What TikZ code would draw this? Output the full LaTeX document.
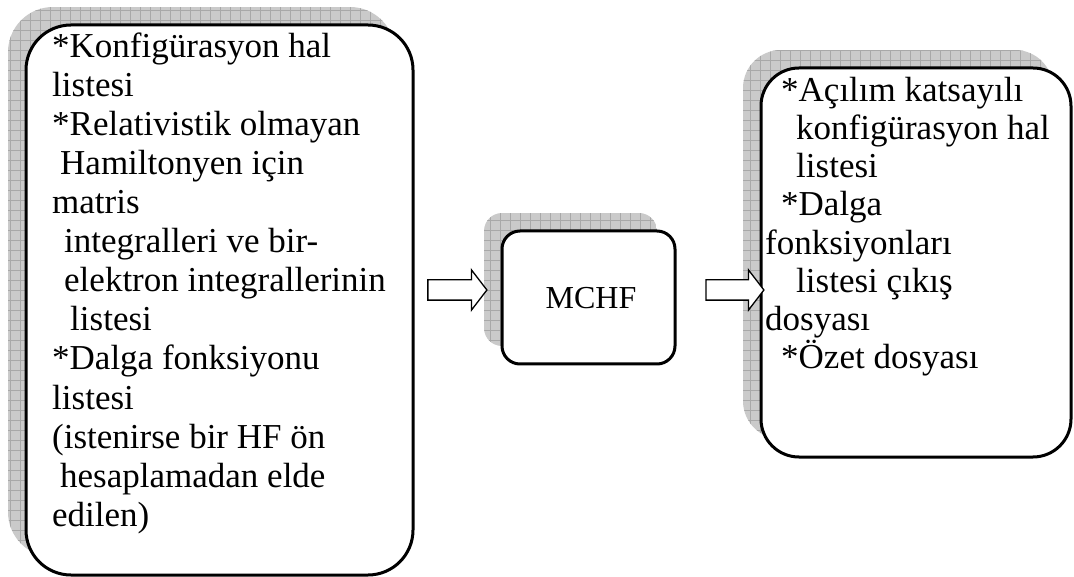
\documentclass[tikz,border=0pt]{standalone}
\usepackage{fontspec}
\setmainfont{Liberation Serif}
\usetikzlibrary{shapes.arrows}
\definecolor{shfill}{HTML}{CACACA}
\definecolor{shline}{HTML}{A8A8A8}
\newcommand\myshadow[3]{%
  \begin{scope}
    \clip[rounded corners=#3] #1 rectangle #2;
    \fill[shfill] #1 rectangle #2;
    \draw[shline, line width=0.7pt] #1 grid[step=10pt] #2;
  \end{scope}}
\begin{document}
\begin{tikzpicture}[x=1pt,y=-1pt,
  box/.style={draw, fill=white, line width=3pt, inner sep=0pt},
  blockarrow/.style={single arrow, draw, fill=white, line width=1.3pt,
    inner xsep=0pt, inner ysep=9.5pt, minimum width=0pt,
    single arrow head extend=10pt, single arrow tip angle=105},
  txt/.style={anchor=base west, inner sep=0pt, font=\fontsize{35}{40}\selectfont}]
\useasboundingbox (0,0) rectangle (1074,577);
% box 1
\myshadow{(8,7)}{(395,557)}{45pt}
\node[box, rounded corners=45pt, minimum width=387, minimum height=550] (b1) at (219.5,300) {};
% box 2
\myshadow{(484,213)}{(657,346)}{18pt}
\node[box, rounded corners=18pt, minimum width=173, minimum height=133] (b2) at (588.5,297.5) {};
% box 3
\myshadow{(743,50)}{(1053,439)}{38pt}
\node[box, rounded corners=38pt, minimum width=310, minimum height=389] (b3) at (916,262.5) {};
% arrows
\node[blockarrow, minimum height=59] (ar1) at (453.5,290) {};
\node[blockarrow, minimum height=58] (ar2) at (731,290) {};
% texts box 1
\node[txt] (t1) at (52,58) {*Konfigürasyon hal};
\node[txt] (t2) at (52,97) {listesi};
\node[txt] (t3) at (52,136) {*Relativistik olmayan};
\node[txt] (t4) at (60,175) {Hamiltonyen için};
\node[txt] (t5) at (52,214) {matris};
\node[txt] (t6) at (64,253) {integralleri ve bir-};
\node[txt] (t7) at (64,292) {elektron integrallerinin};
\node[txt] (t8) at (70,331) {listesi};
\node[txt] (t9) at (52,370) {*Dalga fonksiyonu};
\node[txt] (t10) at (52,409) {listesi};
\node[txt] (t11) at (52,448) {(istenirse bir HF ön};
\node[txt] (t12) at (60,487) {hesaplamadan elde};
\node[txt] (t13) at (52,526) {edilen)};
% box 2
\node[txt, anchor=base, font=\fontsize{32}{36}\selectfont] (m) at (591,309) {MCHF};
% texts box 3
\node[txt] (r1) at (781,102) {*Açılım katsayılı};
\node[txt] (r2) at (796,140) {konfigürasyon hal};
\node[txt] (r3) at (796,178) {listesi};
\node[txt] (r4) at (781,216) {*Dalga};
\node[txt] (r5) at (765,255) {fonksiyonları};
\node[txt] (r6) at (796,293) {listesi çıkış};
\node[txt] (r7) at (765,331) {dosyası};
\node[txt] (r8) at (781,369) {*Özet dosyası};
\end{tikzpicture}
\end{document}
